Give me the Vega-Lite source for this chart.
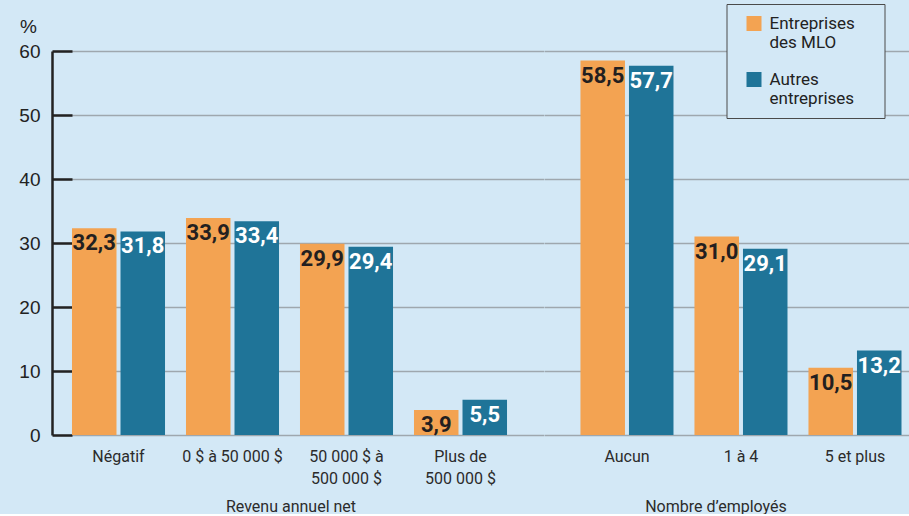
{
  "$schema": "https://vega.github.io/schema/vega-lite/v6.json",
  "background": "#d3e8f6",
  "padding": {"left": 0, "top": 3, "right": 0, "bottom": 0},
  "config": {
    "locale": {"number": {"decimal": ",", "thousands": " ", "grouping": [3], "currency": ["", " $"]}},
    "view": {"stroke": null},
    "font": "Roboto",
    "concat": {"spacing": 0}
  },
  "bounds": "flush",
  "spacing": 0,
  "resolve": {"scale": {"color": "independent", "x": "independent", "xOffset": "independent"}},
  "data": {"values": [
    {"groupe": "Revenu annuel net", "categorie": "Négatif", "serie": "Entreprises des MLO", "valeur": 32.3},
    {"groupe": "Revenu annuel net", "categorie": "Négatif", "serie": "Autres entreprises", "valeur": 31.8},
    {"groupe": "Revenu annuel net", "categorie": "0 $ à 50 000 $", "serie": "Entreprises des MLO", "valeur": 33.9},
    {"groupe": "Revenu annuel net", "categorie": "0 $ à 50 000 $", "serie": "Autres entreprises", "valeur": 33.4},
    {"groupe": "Revenu annuel net", "categorie": "50 000 $ à 500 000 $", "serie": "Entreprises des MLO", "valeur": 29.9},
    {"groupe": "Revenu annuel net", "categorie": "50 000 $ à 500 000 $", "serie": "Autres entreprises", "valeur": 29.4},
    {"groupe": "Revenu annuel net", "categorie": "Plus de 500 000 $", "serie": "Entreprises des MLO", "valeur": 3.9},
    {"groupe": "Revenu annuel net", "categorie": "Plus de 500 000 $", "serie": "Autres entreprises", "valeur": 5.5},
    {"groupe": "Nombre d’employés", "categorie": "Aucun", "serie": "Entreprises des MLO", "valeur": 58.5},
    {"groupe": "Nombre d’employés", "categorie": "Aucun", "serie": "Autres entreprises", "valeur": 57.7},
    {"groupe": "Nombre d’employés", "categorie": "1 à 4", "serie": "Entreprises des MLO", "valeur": 31.0},
    {"groupe": "Nombre d’employés", "categorie": "1 à 4", "serie": "Autres entreprises", "valeur": 29.1},
    {"groupe": "Nombre d’employés", "categorie": "5 et plus", "serie": "Entreprises des MLO", "valeur": 10.5},
    {"groupe": "Nombre d’employés", "categorie": "5 et plus", "serie": "Autres entreprises", "valeur": 13.2}
  ]},
  "hconcat": [
    {
      "width": 491.5,
      "height": 384,
      "transform": [{"filter": "datum.groupe == 'Revenu annuel net'"}],
      "encoding": {
        "x": {
          "field": "categorie", "type": "nominal", "sort": null,
          "scale": {"paddingInner": 0.184, "paddingOuter": 0.2477, "align": 0.354},
          "axis": {
            "title": "Revenu annuel net", "titleX": 238.5, "titleY": 76, "titleAlign": "center", "titleBaseline": "alphabetic",
            "titleFontSize": 16, "titleFontWeight": "normal", "titleColor": "#2b2b2b",
            "labelAngle": 0, "labelFontSize": 16, "labelColor": "#2b2b2b", "labelPadding": 13, "labelLineHeight": 22,
            "labelExpr": "datum.label == '50 000 $ à 500 000 $' ? ['50 000 $ à', '500 000 $'] : datum.label == 'Plus de 500 000 $' ? ['Plus de', '500 000 $'] : datum.label",
            "domain": false, "ticks": false, "grid": false
          }
        },
        "xOffset": {"field": "serie", "type": "nominal", "sort": ["Entreprises des MLO", "Autres entreprises"], "scale": {"paddingInner": 0.0825, "paddingOuter": 0}},
        "y": {
          "field": "valeur", "type": "quantitative",
          "scale": {"domain": [0, 60], "nice": false},
          "axis": {
            "title": "%", "titleAngle": 0, "titleX": -24, "titleY": -19, "titleAlign": "center", "titleBaseline": "alphabetic",
            "titleFontSize": 19, "titleFontWeight": "normal", "titleColor": "#222", "titleFont": "Liberation Sans",
            "values": [0, 10, 20, 30, 40, 50, 60],
            "labelFont": "Liberation Sans", "labelFontSize": 19, "labelColor": "#222", "labelPadding": 32,
            "tickSize": -20, "tickWidth": 2.5, "tickColor": "#222",
            "domainColor": "#222", "domainWidth": 2.5,
            "grid": true, "gridColor": "#9ea7ae", "gridWidth": 1.5,
            "minExtent": 52, "maxExtent": 52
          }
        }
      },
      "layer": [
        {
          "mark": {"type": "bar"},
          "encoding": {
            "color": {"field": "serie", "type": "nominal", "scale": {"domain": ["Entreprises des MLO", "Autres entreprises"], "range": ["#f3a352", "#1f7498"]}, "legend": null}
          }
        },
        {
          "mark": {"type": "text", "baseline": "top", "dy": 5, "fontWeight": "bold", "fontSize": 22},
          "encoding": {
            "text": {"field": "valeur", "type": "quantitative", "format": ".1f"},
            "color": {"condition": {"test": "datum.serie == 'Autres entreprises'", "value": "#ffffff"}, "value": "#231f20"}
          }
        }
      ]
    },
    {
      "width": 365.5,
      "height": 384,
      "transform": [{"filter": "datum.groupe == 'Nombre d’employés'"}],
      "encoding": {
        "x": {
          "field": "categorie", "type": "nominal", "sort": null,
          "scale": {"paddingInner": 0.184, "paddingOuter": 0.195, "align": 0.82},
          "axis": {
            "title": "Nombre d’employés", "titleX": 171.5, "titleY": 76, "titleAlign": "center", "titleBaseline": "alphabetic",
            "titleFontSize": 16, "titleFontWeight": "normal", "titleColor": "#2b2b2b",
            "labelAngle": 0, "labelFontSize": 16, "labelColor": "#2b2b2b", "labelPadding": 13,
            "domain": false, "ticks": false, "grid": false
          }
        },
        "xOffset": {"field": "serie", "type": "nominal", "sort": ["Entreprises des MLO", "Autres entreprises"], "scale": {"paddingInner": 0.0825, "paddingOuter": 0}},
        "y": {
          "field": "valeur", "type": "quantitative",
          "scale": {"domain": [0, 60], "nice": false},
          "axis": {
            "title": null, "values": [0, 10, 20, 30, 40, 50, 60],
            "labels": false, "ticks": false, "domain": false,
            "grid": true, "gridColor": "#9ea7ae", "gridWidth": 1.5,
            "minExtent": 0, "maxExtent": 0
          }
        }
      },
      "layer": [
        {
          "mark": {"type": "bar"},
          "encoding": {
            "color": {
              "field": "serie", "type": "nominal",
              "scale": {"domain": ["Entreprises des MLO", "Autres entreprises"], "range": ["#f3a352", "#1f7498"]},
              "legend": {
                "orient": "none", "legendX": 182.5, "legendY": -47,
                "title": ".", "titleOrient": "right", "titleColor": "transparent", "titleFontSize": 10, "titlePadding": 16,
                "strokeColor": "#4a4a4a", "fillColor": "#d3e8f6", "padding": 11,
                "symbolType": "square", "symbolSize": 225, "symbolStrokeWidth": 0, "symbolOffset": 8,
                "labelFontSize": 17, "labelColor": "#222", "labelOffset": 7, "rowPadding": 19,
                "labelExpr": "datum.label == 'Entreprises des MLO' ? ['Entreprises', 'des MLO'] : ['Autres', 'entreprises']"
              }
            }
          }
        },
        {
          "mark": {"type": "text", "baseline": "top", "dy": 5, "fontWeight": "bold", "fontSize": 22},
          "encoding": {
            "text": {"field": "valeur", "type": "quantitative", "format": ".1f"},
            "color": {"condition": {"test": "datum.serie == 'Autres entreprises'", "value": "#ffffff"}, "value": "#231f20"}
          }
        }
      ]
    }
  ]
}
